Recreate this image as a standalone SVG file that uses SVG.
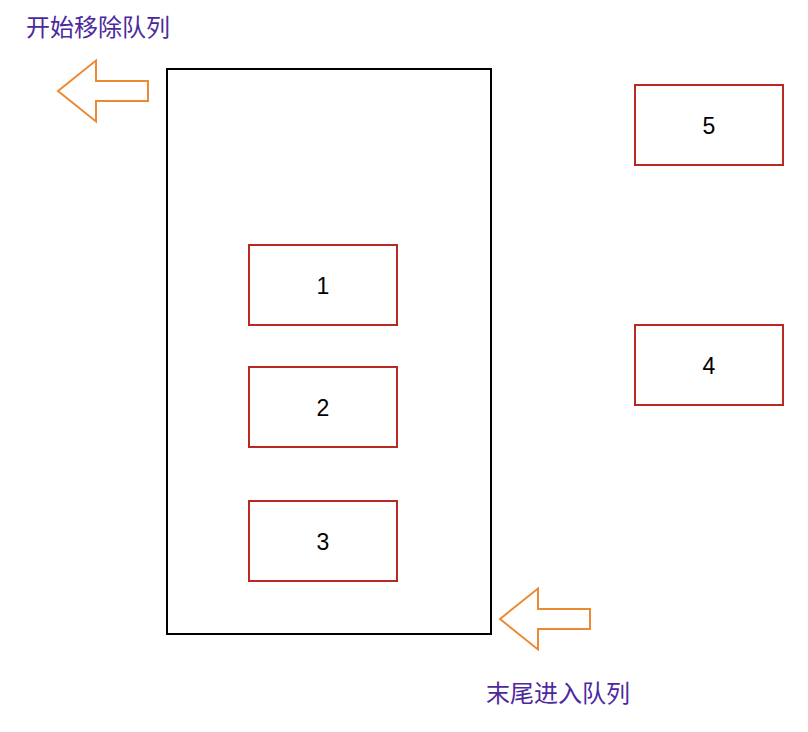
<svg xmlns="http://www.w3.org/2000/svg" width="808" height="732" viewBox="0 0 808 732">
<style>
.item{fill:#fff;stroke:#b82a22;stroke-width:2}
.num{font-family:"Liberation Sans",Arial,sans-serif;font-size:23px;fill:#000;text-anchor:middle}
.arrow{fill:#fff;stroke:#ec8a33;stroke-width:2;stroke-linejoin:miter}
.lbl{font-family:"Noto Sans CJK SC","Noto Sans",sans-serif;font-size:24px;fill:#4c2a9e}
</style>
<rect width="808" height="732" fill="#fff"/>
<g id="queue"><rect x="167" y="69" width="324" height="565" fill="#fff" stroke="#000" stroke-width="2"/></g>
<g id="n1"><rect class="item" x="249" y="245" width="148" height="80"/><text class="num" x="323" y="294">1</text></g>
<g id="n2"><rect class="item" x="249" y="367" width="148" height="80"/><text class="num" x="323" y="416">2</text></g>
<g id="n3"><rect class="item" x="249" y="501" width="148" height="80"/><text class="num" x="323" y="550">3</text></g>
<g id="n5"><rect class="item" x="635" y="85" width="148" height="80"/><text class="num" x="709" y="134">5</text></g>
<g id="n4"><rect class="item" x="635" y="325" width="148" height="80"/><text class="num" x="709" y="374">4</text></g>
<g id="connectors">
<path class="arrow" d="M58,91 L96,60.5 L96,81 L148,81 L148,101 L96,101 L96,121.5 Z"/>
<path class="arrow" d="M500,619 L538,588.5 L538,609 L590,609 L590,629 L538,629 L538,649.5 Z"/>
</g>
<g id="labels">
<text class="lbl" x="26" y="36">开始移除队列</text>
<text class="lbl" x="486" y="702">末尾进入队列</text>
</g>
</svg>
